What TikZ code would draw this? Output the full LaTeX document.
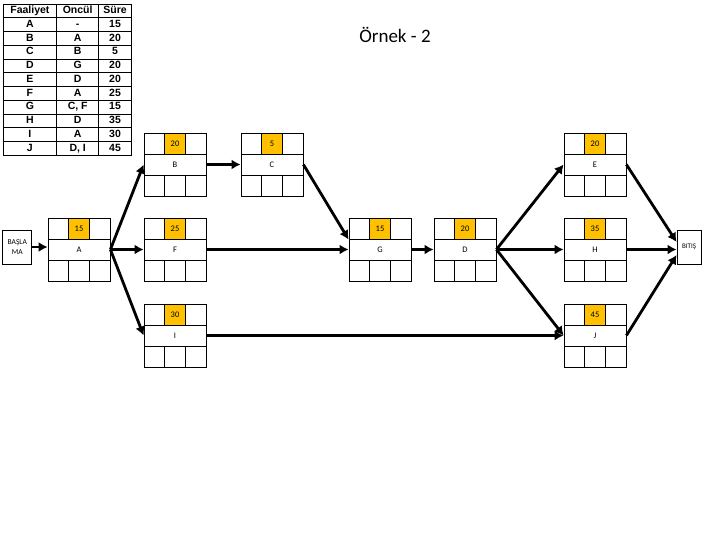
\documentclass[tikz,border=0pt]{standalone}
\usepackage{fontspec}
\setmainfont{Carlito}
\newfontfamily\tablofont{Liberation Sans}
\usetikzlibrary{arrows.meta, calc, matrix}
\definecolor{turuncu}{HTML}{FFC000}

\begin{document}
\begin{tikzpicture}[x=1pt, y=-1pt,
    % Define the style for the activity boxes
    faaliyet/.style={
        draw, line width=0.8pt, minimum width=62pt, minimum height=63pt,
        inner sep=0pt, font=\fontsize{8.5}{10}\selectfont,
        path picture={
            \draw[line width=0.8pt] ([shift={(-31pt,10.5pt)}]path picture bounding box.center) -- ([shift={(31pt,10.5pt)}]path picture bounding box.center);
            \draw[line width=0.8pt] ([shift={(-31pt,-10.5pt)}]path picture bounding box.center) -- ([shift={(31pt,-10.5pt)}]path picture bounding box.center);
            \draw[line width=0.8pt] ([shift={(-10.33pt,31.5pt)}]path picture bounding box.center) -- ([shift={(-10.33pt,10.5pt)}]path picture bounding box.center);
            \draw[line width=0.8pt] ([shift={(10.33pt,31.5pt)}]path picture bounding box.center) -- ([shift={(10.33pt,10.5pt)}]path picture bounding box.center);
            \draw[line width=0.8pt] ([shift={(-10.33pt,-10.5pt)}]path picture bounding box.center) -- ([shift={(-10.33pt,-31.5pt)}]path picture bounding box.center);
            \draw[line width=0.8pt] ([shift={(10.33pt,-10.5pt)}]path picture bounding box.center) -- ([shift={(10.33pt,-31.5pt)}]path picture bounding box.center);
        }
    },
    % Define the style for the duration cells
    sure/.style={
        draw, line width=0.8pt, fill=turuncu, anchor=north,
        minimum width=20.67pt, minimum height=21pt, inner sep=0pt,
        font=\fontsize{8.5}{10}\selectfont
    },
    % Define the style for the start and end boxes
    uc/.style={draw, line width=0.8pt, align=center, inner sep=0pt, minimum height=34pt},
    % Define the style for the arrows
    ok/.style={line width=2.8pt, -{Latex[length=9pt, width=10pt]}}
]

\useasboundingbox (0,0) rectangle (720,540);

% The table of activities
\matrix (tablo) [matrix of nodes, anchor=north west, inner sep=0pt, outer sep=0pt,
    row sep=-0.8pt, column sep=-0.8pt,
    nodes={draw, line width=0.8pt, inner sep=0pt, minimum height=13.75pt,
        text height=7.6pt, text depth=2pt,
        font=\tablofont\bfseries\fontsize{10.5}{12}\selectfont},
    column 1/.style={nodes={minimum width=53.6pt}},
    column 2/.style={nodes={minimum width=42pt}},
    column 3/.style={nodes={minimum width=32.7pt}}] at (2.7,3.6) {
    Faaliyet & Öncül & Süre \\
    A & - & 15 \\
    B & A & 20 \\
    C & B & 5 \\
    D & G & 20 \\
    E & D & 20 \\
    F & A & 25 \\
    G & C, F & 15 \\
    H & D & 35 \\
    I & A & 30 \\
    J & D, I & 45 \\
};

% The title
\node[font=\fontsize{19}{22}\selectfont] (baslik) at (395,35) {Örnek - 2};

% Start and end
\node[uc, minimum width=29pt, font=\fontsize{7.5}{9.5}\selectfont] (BASLAMA) at (17.3,247) {BAŞLA\\MA};
\node[uc, minimum width=24pt, font=\fontsize{7}{8}\selectfont] (BITIS) at (689,247) {BITIŞ};

% The activities
\node[faaliyet] (A) at (79,249.5) {A};
\node[faaliyet] (B) at (175,164.5) {B};
\node[faaliyet] (C) at (272,164.5) {C};
\node[faaliyet] (E) at (595,164.5) {E};
\node[faaliyet] (F) at (175,249.5) {F};
\node[faaliyet] (G) at (380,249.5) {G};
\node[faaliyet] (D) at (465,249.5) {D};
\node[faaliyet] (H) at (595,249.5) {H};
\node[faaliyet] (I) at (175,335.5) {I};
\node[faaliyet] (J) at (595,335.5) {J};

% The durations
\node[sure] (Asure) at (A.north) {15};
\node[sure] (Bsure) at (B.north) {20};
\node[sure] (Csure) at (C.north) {5};
\node[sure] (Esure) at (E.north) {20};
\node[sure] (Fsure) at (F.north) {25};
\node[sure] (Gsure) at (G.north) {15};
\node[sure] (Dsure) at (D.north) {20};
\node[sure] (Hsure) at (H.north) {35};
\node[sure] (Isure) at (I.north) {30};
\node[sure] (Jsure) at (J.north) {45};

% Draw the arrows
\draw[ok] (BASLAMA.east) -- (BASLAMA.east -| A.west);
\draw[ok] (A.east) -- (B.west);
\draw[ok] (A.east) -- (F.west);
\draw[ok] (A.east) -- (I.west);
\draw[ok] (B.east) -- (C.west);
\draw[ok] (C.east) -- ([yshift=10pt]G.west);
\draw[ok] (F.east) -- (G.west);
\draw[ok] (G.east) -- (D.west);
\draw[ok] (D.east) -- (E.west);
\draw[ok] (D.east) -- (H.west);
\draw[ok] (D.east) -- (J.west);
\draw[ok] (I.east) -- (J.west);
\draw[ok] (E.east) -- ([yshift=5pt]BITIS.west);
\draw[ok] (H.east) -- (H.east -| BITIS.west);
\draw[ok] (J.east) -- ([yshift=-8pt]BITIS.west);

\end{tikzpicture}
\end{document}
